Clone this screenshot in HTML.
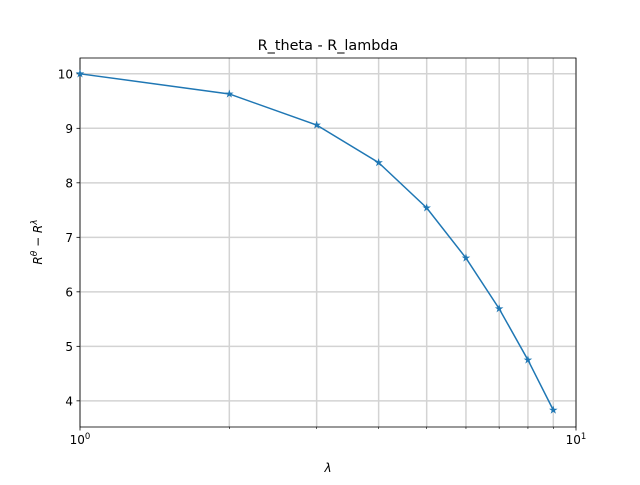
<!DOCTYPE html>
<html><head><meta charset="utf-8"><style>
body{margin:0;background:#fff}
svg text{font-family:"DejaVu Sans","Liberation Sans",sans-serif;fill:#000}
</style></head><body>
<svg id="chart" width="640" height="480" xmlns="http://www.w3.org/2000/svg">
<rect width="640" height="480" fill="#fff"/>
<g id="grid"></g>
<g id="axes"></g>
<g id="series"></g>
<text x="328" y="50" font-size="14.4" text-anchor="middle">R_theta - R_lambda</text>
<text x="328" y="472" font-size="12" text-anchor="middle" font-style="italic">λ</text>
<text transform="translate(42,242) rotate(-90)" font-size="12" text-anchor="middle" font-style="italic">R<tspan font-size="9" dy="-5">θ</tspan><tspan dy="5"> − R</tspan><tspan font-size="9" dy="-5">λ</tspan></text>
</svg>
<script>
const xValues=[1,2,3,4,5,6,7,8,9];
const yValues=[10.0,9.63,9.06,8.37,7.54,6.62,5.69,4.75,3.83];
const yTicks=[4,5,6,7,8,9,10];
const xMajor=[1,10];
const xMajorLabels=["10","10"];
const xMajorExp=["0","1"];
const L=80,R=576,T=58,B=427,ymin=3.52,ymax=10.29;
const sx=v=>L+Math.log10(v)*(R-L);
const sy=v=>B-(v-ymin)/(ymax-ymin)*(B-T);
const NS="http://www.w3.org/2000/svg";
function mk(t,a,p){const e=document.createElementNS(NS,t);for(const k in a)e.setAttribute(k,a[k]);p.appendChild(e);return e;}
const grid=document.getElementById('grid'),axes=document.getElementById('axes'),ser=document.getElementById('series');
for(let i=1;i<=10;i++){const x=sx(i);
const g=mk('line',{x1:x,x2:x,y1:T,y2:B,stroke:'#d3d3d3','stroke-width':1.5},grid);

const major=(i===1||i===10);
mk('line',{x1:x,x2:x,y1:B,y2:B+(major?3.5:2),stroke:'#000','stroke-width':major?0.8:0.6},axes);}
xMajor.forEach((v,i)=>{const t=mk('text',{x:sx(v),y:B+17,'font-size':12,'text-anchor':'middle'},axes);

t.textContent=xMajorLabels[i];const s=mk('tspan',{'font-size':8.5,dy:-5},t);s.textContent=xMajorExp[i];});
yTicks.forEach(v=>{const y=sy(v);
const g=mk('line',{x1:L,x2:R,y1:y,y2:y,stroke:'#d3d3d3','stroke-width':1.5},grid);

mk('line',{x1:L-3.5,x2:L,y1:y,y2:y,stroke:'#000','stroke-width':0.8},axes);
const t=mk('text',{x:L-7,y:y+4.5,'font-size':12,'text-anchor':'end'},axes);
t.textContent=v;});
const f=mk('rect',{x:L,y:T,width:R-L,height:B-T,fill:'none',stroke:'#000','stroke-width':0.8},axes);

const pts=xValues.map((v,i)=>sx(v)+','+sy(yValues[i])).join(' ');
const pl=mk('polyline',{points:pts,fill:'none',stroke:'#1f77b4','stroke-width':1.5},ser);

function star(cx,cy,r){let p=[];for(let k=0;k<10;k++){const a=-Math.PI/2+k*Math.PI/5;const rr=k%2?r*0.38:r;p.push((cx+rr*Math.cos(a)).toFixed(2)+','+(cy+rr*Math.sin(a)).toFixed(2));}return p.join(' ');}
xValues.forEach((v,i)=>{const m=mk('polygon',{points:star(sx(v),sy(yValues[i]),4.5),fill:'#1f77b4'},ser);
});
</script>
</body></html>
